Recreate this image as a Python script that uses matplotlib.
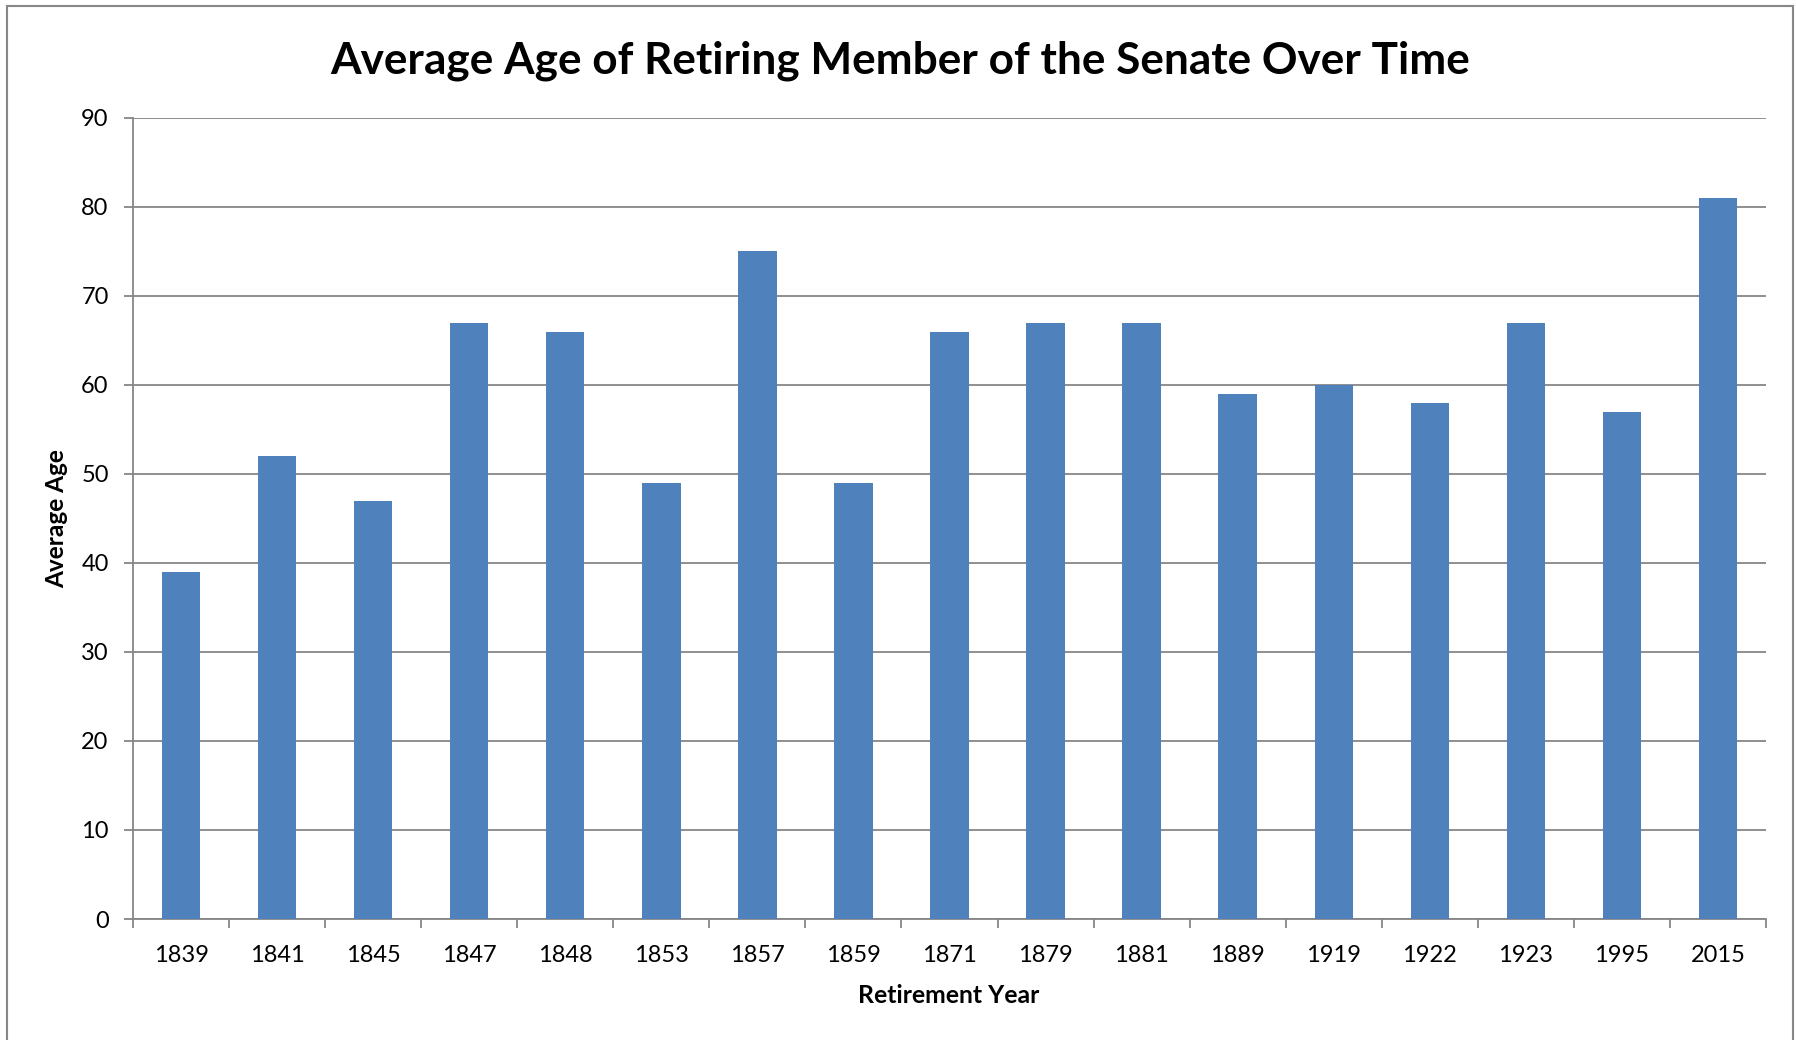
import matplotlib.pyplot as plt
import numpy as np
from matplotlib.patches import Rectangle

years = ["1839", "1841", "1845", "1847", "1848", "1853", "1857", "1859", "1871",
         "1879", "1881", "1889", "1919", "1922", "1923", "1995", "2015"]
avg_age = [39, 52, 47, 67, 66, 49, 75, 49, 66, 67, 67, 59, 60, 58, 67, 57, 81]

title = "Average Age of Retiring Member of the Senate Over Time"
x_label = "Retirement Year"
y_label = "Average Age"


def main():
    plt.rcParams['font.family'] = ['Lato', 'DejaVu Sans']
    W, H = 1796, 1040
    fig = plt.figure(figsize=(W / 100, H / 100), dpi=100)
    ax = fig.add_axes([133 / W, 1 - 919 / H, (1766 - 133) / W, (919 - 118) / H])

    grid_col = '#868686'
    X = np.arange(len(years))
    ax.bar(X, avg_age, width=0.4, color='#4F81BD', zorder=3)

    ax.set_xlim(-0.5, len(years) - 0.5)
    ax.set_ylim(0, 90)
    ax.set_yticks(np.arange(0, 91, 10))
    # category boundaries get the tick marks, labels sit between them
    ax.set_xticks(np.arange(len(years) + 1) - 0.5, minor=False)
    ax.set_xticklabels([])
    ax.set_xticks(X, minor=True)
    ax.set_xticklabels(years, minor=True)
    ax.tick_params(axis='x', which='major', length=6.5, width=1.3, color=grid_col, direction='out')
    ax.tick_params(axis='x', which='minor', length=0, pad=18.5, labelsize=17)
    ax.tick_params(axis='y', length=6.5, width=1.3, color=grid_col, pad=11, labelsize=17)

    ax.grid(axis='y', color=grid_col, linewidth=1.3, zorder=0)
    for s in ['top', 'right']:
        ax.spines[s].set_visible(False)
    for s in ['left', 'bottom']:
        ax.spines[s].set_color(grid_col)
        ax.spines[s].set_linewidth(1.3)

    fig.text(900 / W, 1 - 60.5 / H, title, ha='center', va='center',
             fontsize=31.8, fontweight='bold')
    fig.text(949 / W, 1 - 995.5 / H, x_label, ha='center', va='center',
             fontsize=17.8, fontweight='bold')
    fig.text(57 / W, 1 - 519 / H, y_label, ha='center', va='center',
             fontsize=17.6, fontweight='bold', rotation=90)

    fig.patches.append(Rectangle((7 / W, -0.05), (1793 - 7) / W, 1.05 - 6 / H,
                                 transform=fig.transFigure, fill=False,
                                 edgecolor='#878787', linewidth=1.5))

    fig.savefig('out.png', dpi=100)


if __name__ == "__main__":
    main()
